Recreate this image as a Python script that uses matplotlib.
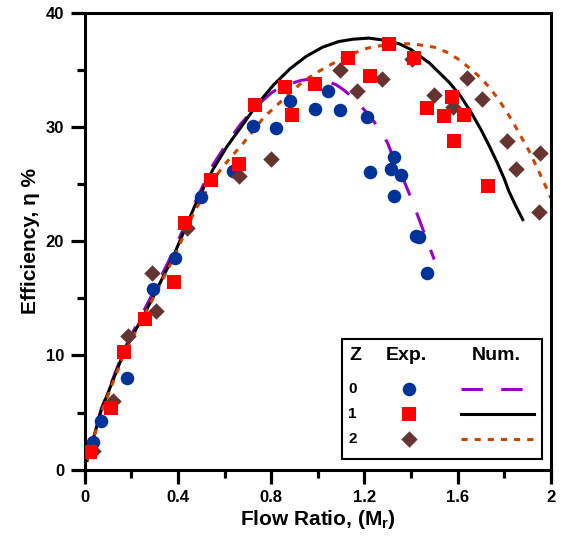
import matplotlib
matplotlib.use('Agg')
import matplotlib.pyplot as plt
from matplotlib.patches import Rectangle
from matplotlib.ticker import MultipleLocator

plt.rcParams['font.family'] = ['Liberation Sans', 'DejaVu Sans']
plt.rcParams['font.weight'] = 'bold'
plt.rcParams['mathtext.fontset'] = 'custom'
plt.rcParams['mathtext.rm'] = 'Liberation Sans:bold'
plt.rcParams['mathtext.bf'] = 'Liberation Sans:bold'

# experimental points
z0_x = [0.036, 0.067, 0.179, 0.293, 0.388, 0.50, 0.634, 0.72, 0.82, 0.88, 0.99,
        1.044, 1.097, 1.21, 1.223, 1.316, 1.326, 1.327, 1.359, 1.42, 1.435, 1.47]
z0_y = [2.4, 4.3, 8.0, 15.8, 18.5, 23.9, 26.2, 30.1, 29.9, 32.3, 31.6,
        33.2, 31.5, 30.9, 26.1, 26.3, 27.4, 24.0, 25.8, 20.5, 20.4, 17.2]

z1_x = [0.024, 0.114, 0.167, 0.26, 0.383, 0.428, 0.54, 0.662, 0.73, 0.858, 0.89,
        0.99, 1.13, 1.226, 1.306, 1.412, 1.469, 1.542, 1.575, 1.585, 1.627, 1.732]
z1_y = [1.5, 5.4, 10.3, 13.2, 16.4, 21.6, 25.4, 26.8, 31.9, 33.5, 31.1,
        33.8, 36.1, 34.5, 37.3, 36.1, 31.7, 31.0, 32.6, 28.8, 31.1, 24.8]

z2_x = [0.035, 0.121, 0.186, 0.29, 0.305, 0.439, 0.662, 0.80, 1.094, 1.17, 1.275,
        1.406, 1.50, 1.58, 1.642, 1.707, 1.814, 1.85, 1.953, 1.948]
z2_y = [1.6, 6.0, 11.7, 17.2, 13.9, 21.2, 25.7, 27.2, 35.0, 33.2, 34.2,
        36.0, 32.8, 31.8, 34.3, 32.5, 28.8, 26.3, 27.7, 22.6]

# numerical curves
n0_x = [0.01, 0.07, 0.17, 0.28, 0.38, 0.47, 0.51, 0.55, 0.61, 0.67, 0.74, 0.80,
        0.84, 0.88, 0.93, 0.98, 1.03, 1.08, 1.115, 1.15, 1.20, 1.26, 1.30, 1.33,
        1.37, 1.40, 1.43, 1.47, 1.50]
n0_y = [1.0, 5.3, 10.6, 15.0, 19.1, 23.3, 25.0, 26.7, 28.6, 30.3, 31.9, 33.0,
        33.5, 33.8, 34.1, 34.25, 34.1, 33.7, 33.2, 32.6, 31.5, 30.0, 28.6, 27.0,
        25.3, 23.8, 22.2, 20.0, 18.4]

n1_x = [0.01, 0.07, 0.17, 0.28, 0.38, 0.47, 0.51, 0.55, 0.61, 0.67, 0.74, 0.81,
        0.88, 0.95, 1.02, 1.09, 1.15, 1.22, 1.29, 1.35, 1.40, 1.44, 1.48, 1.52,
        1.565, 1.61, 1.655, 1.70, 1.735, 1.77, 1.80, 1.82, 1.85, 1.88]
n1_y = [0.8, 5.2, 10.4, 14.6, 18.7, 23.0, 24.7, 26.3, 28.3, 30.0, 32.0, 33.7,
        35.1, 36.2, 37.0, 37.5, 37.7, 37.8, 37.6, 37.3, 36.8, 36.2, 35.6, 34.8,
        33.9, 32.8, 31.4, 29.8, 28.4, 26.9, 25.5, 24.4, 23.1, 21.9]

n2_x = [0.01, 0.07, 0.17, 0.28, 0.38, 0.47, 0.53, 0.59, 0.68, 0.77, 0.85, 0.92,
        0.98, 1.04, 1.12, 1.21, 1.31, 1.41, 1.50, 1.55, 1.60, 1.65, 1.70, 1.74,
        1.78, 1.815, 1.85, 1.88, 1.91, 1.94, 1.97, 2.0]
n2_y = [0.8, 5.0, 10.2, 14.5, 18.5, 22.6, 24.7, 26.5, 28.6, 30.9, 32.4, 33.7,
        34.6, 35.3, 36.2, 36.9, 37.3, 37.3, 37.0, 36.6, 36.0, 35.2, 34.3, 33.4,
        32.3, 31.2, 30.0, 28.9, 27.8, 26.5, 25.2, 23.8]

blue = '#003399'
red = '#ff0000'
brown = '#663333'
purple = '#9900cc'
orange = '#cc4400'
dash0 = (7, 6)
dot2 = (2, 2.3)

fig = plt.figure(figsize=(5.66, 5.41), dpi=100)
ax = fig.add_axes([0.150, 0.132, 0.823, 0.844])

ax.plot(n0_x, n0_y, color=purple, lw=2.2, dashes=dash0, zorder=2)
ax.plot(n1_x, n1_y, color='black', lw=2.2, zorder=2)
ax.plot(n2_x, n2_y, color=orange, lw=2.2, dashes=dot2, zorder=2)

ax.scatter(z0_x, z0_y, marker='o', s=95, color=blue, zorder=3, lw=0)
ax.scatter(z2_x, z2_y, marker='D', s=70, color=brown, zorder=3, lw=0)
ax.scatter(z1_x, z1_y, marker='s', s=110, color=red, zorder=4, lw=0)

ax.set_xlim(0, 2)
ax.set_ylim(0, 40)
ax.xaxis.set_minor_locator(MultipleLocator(0.2))
ax.yaxis.set_major_locator(MultipleLocator(10))
ax.yaxis.set_minor_locator(MultipleLocator(5))
ax.set_xticks([0, 0.4, 0.8, 1.2, 1.6, 2.0])
ax.set_xticklabels(['0', '0.4', '0.8', '1.2', '1.6', '2'])
ax.tick_params(which='major', direction='out', length=10, width=2.3, labelsize=12, pad=5)
ax.tick_params(which='minor', direction='out', length=5.5, width=2.3)
for lab in ax.get_xticklabels() + ax.get_yticklabels():
    lab.set_fontweight('bold')
for sp in ax.spines.values():
    sp.set_linewidth(2.2)

ax.set_xlabel('Flow Ratio, (M$_{\\mathregular{r}}$)', fontsize=15, fontweight='bold', labelpad=2)
ax.set_ylabel('Efficiency, η %', fontsize=15, fontweight='bold', labelpad=4)

# table style legend
tr = ax.transAxes
ax.add_patch(Rectangle((0.551, 0.024), 0.431, 0.263, transform=tr, fill=True,
                       facecolor='white', edgecolor='black', lw=1.5, zorder=5))
ax.text(0.580, 0.249, 'Z', transform=tr, ha='center', va='center', fontsize=14, fontweight='bold', zorder=6)
ax.text(0.690, 0.249, 'Exp.', transform=tr, ha='center', va='center', fontsize=14, fontweight='bold', zorder=6)
ax.text(0.884, 0.249, 'Num.', transform=tr, ha='center', va='center', fontsize=14, fontweight='bold', zorder=6)
rows = [('0', 'o', blue, 95, purple, dash0),
        ('1', 's', red, 110, 'black', None),
        ('2', 'D', brown, 70, orange, dot2)]
row_y = [0.176, 0.122, 0.066]
for (lab, mk, mc, ms, lc, ds), ry in zip(rows, row_y):
    ax.text(0.575, ry, lab, transform=tr, ha='center', va='center', fontsize=11, fontweight='bold', zorder=6)
    ax.scatter([0.695], [ry], transform=tr, marker=mk, s=ms, color=mc, lw=0, zorder=6, clip_on=False)
    ln, = ax.plot([0.808, 0.965], [ry, ry], transform=tr, color=lc, lw=2.2, zorder=6)
    if ds:
        ln.set_dashes(ds)

fig.savefig('out.png', dpi=100)
